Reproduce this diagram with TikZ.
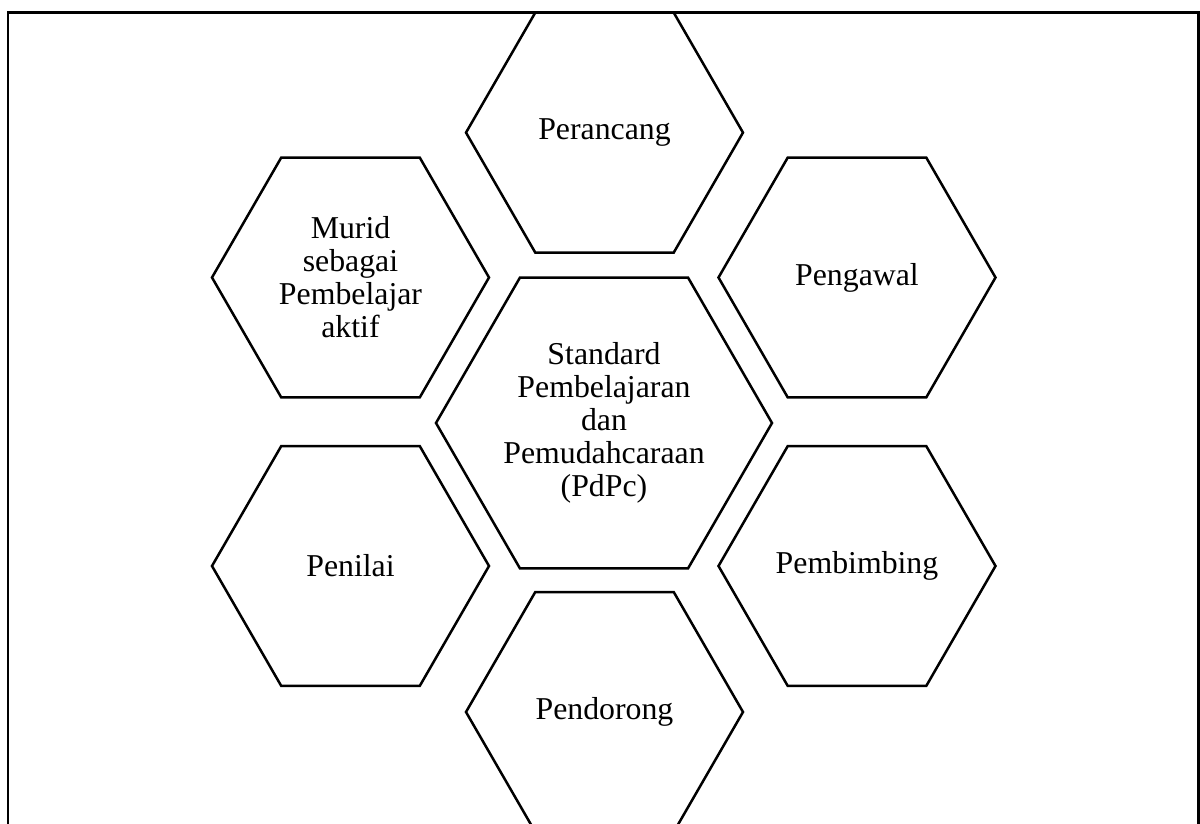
\documentclass[tikz,border=0pt]{standalone}
\usepackage{fontspec}
\setmainfont{Liberation Serif}
\usetikzlibrary{shapes.geometric}
\begin{document}
\begin{tikzpicture}[x=1pt,y=-1pt,
  hexbox/.style={regular polygon, regular polygon sides=6, draw=black,
    line width=2.5pt, inner sep=2pt, align=center, text=black,
    font={\fontsize{31.8}{33}\selectfont}},
  smallhex/.style={hexbox, minimum size=277pt},
  bighex/.style={hexbox, minimum size=336pt},
  frameline/.style={draw=black, line width=2.5pt}]
  \useasboundingbox (0,0) rectangle (1200,824);
  \clip (0,0) rectangle (1200,824);
  % outer frame (its lower edge runs past the page)
  \draw[frameline] (8,12.7) rectangle (1198.5,900);
  % central hexagon
  \node[bighex] (pdpc) at (604,423)
    {Standard\\Pembelajaran\\dan\\Pemudahcaraan\\(PdPc)};
  % surrounding hexagons
  \node[smallhex] (perancang) at (604.5,132.6) {Perancang};
  \node[smallhex] (murid) at (350.5,277.5) {Murid\\sebagai\\Pembelajar\\aktif};
  \node[smallhex] (pengawal) at (857,277.5) {Pengawal};
  \node[smallhex] (penilai) at (350.5,566) {Penilai};
  \node[smallhex] (pembimbing) at (857,566) {Pembimbing};
  \node[smallhex] (pendorong) at (604.5,712) {Pendorong};
\end{tikzpicture}
\end{document}
